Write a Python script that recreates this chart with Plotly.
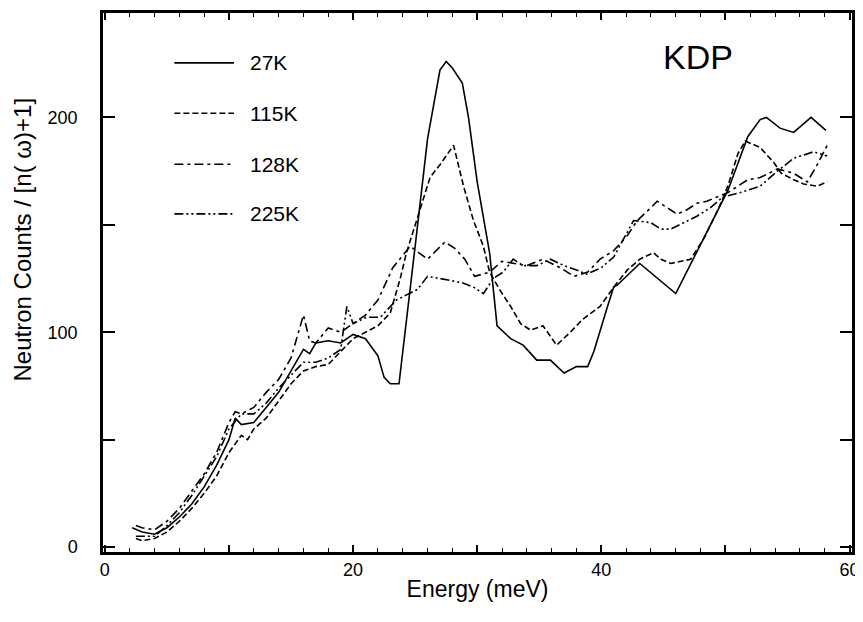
import plotly.graph_objects as go

# ---- data ----
x_27 = [2.2, 3, 4, 5, 6, 7, 8, 9, 10, 10.5, 11, 12, 13, 14, 15, 16, 16.5, 17, 18, 19, 20, 21, 22, 22.5, 23, 23.7,
        25, 26, 27, 27.5, 28, 28.8, 29.3, 30, 31, 31.6, 32.7, 33.7, 34.8, 35.9, 37, 38, 38.9, 39.4, 40.5, 41, 41.3,
        43.1, 46, 47.4, 50.2, 51.8, 52.8, 53.3, 54.4, 55.5, 56.9, 58.1]
y_27 = [9, 7, 6, 9, 14, 20, 28, 38, 50, 60, 57, 58, 65, 72, 82, 92, 90, 95, 96, 95, 99, 97, 89, 79, 76, 76,
        140, 190, 222, 226, 223, 216, 200, 170, 137, 103, 97, 94, 87, 87, 81, 84, 84, 91, 112, 121, 122,
        132, 118, 134, 166, 191, 199, 200, 195, 193, 200, 194]

x_115 = [2.5, 3, 4, 5, 6, 7, 8, 9, 10, 11, 11.5, 12, 13, 14, 15, 16, 17, 18, 19, 20, 21, 22, 23, 23.8, 24.3, 25.2,
         26.2, 27, 28.1, 28.9, 29.7, 30.5, 31, 31.9, 32.7, 33.5, 34.3, 35.3, 36.4, 37.5, 38.5, 39.9, 41, 42.1, 43.1,
         44.2, 44.8, 45.6, 46.4, 47.2, 48.3, 49.4, 50.2, 51, 51.6, 52.8, 53.9, 54.5, 55.5, 56.3, 57.4, 58.2]
y_115 = [4, 3, 4, 7, 12, 18, 25, 33, 44, 52, 50, 55, 60, 68, 76, 82, 84, 85, 91, 97, 100, 103, 109, 125, 137, 154,
         172, 178, 187, 168, 152, 140, 128, 119, 112, 104, 101, 103, 94, 100, 106, 112, 121, 129, 134,
         137, 134, 132, 133, 134, 144, 157, 168, 183, 189, 186, 179, 174, 171, 169, 168, 170]

x_128 = [2.5, 3, 4, 5, 6, 7, 8, 9, 10, 10.5, 11, 12, 13, 14, 15, 15.5, 16, 16.5, 17, 18, 19, 20, 21, 22, 23.2, 24.6,
         26, 27.4, 28.2, 29, 29.8, 31, 32, 33, 34, 35.3, 36.7, 37.8, 38.9, 39.9, 41, 42.1, 42.9, 44, 44.5, 45.3,
         46.1, 46.9, 47.7, 48.5, 49.3, 50.2, 51.8, 52.8, 54.2, 55.5, 56.6, 57.4, 58.2]
y_128 = [10, 9, 8, 12, 18, 26, 34, 44, 58, 63, 62, 65, 72, 78, 88, 98, 108, 96, 95, 102, 100, 104, 108, 115, 130, 140,
         134, 142, 139, 134, 126, 128, 133, 132, 131, 134, 130, 126, 128, 134, 138, 145, 152, 158, 161, 158,
         155, 157, 160, 161, 163, 165, 171, 172, 176, 174, 170, 178, 187]

x_225 = [2.5, 3, 4, 5, 6, 7, 8, 9, 10, 11, 12, 13, 14, 15, 16, 17, 18, 19, 19.5, 20, 21.1, 22.2, 23.5, 25.2, 26, 27,
         27.8, 28.8, 29.7, 30.5, 31.3, 32.1, 32.9, 33.7, 34.8, 35.9, 37, 38, 38.8, 40, 41, 42.6, 44, 44.8, 45.6,
         46.6, 47.7, 48.8, 49.8, 51.2, 52.8, 54.2, 55.5, 57.1, 58.2]
y_225 = [5, 5, 5, 10, 16, 24, 33, 42, 55, 62, 62, 67, 74, 80, 86, 86, 88, 92, 112, 104, 107, 107, 115, 120, 126, 125,
         124, 123, 121, 118, 125, 128, 134, 131, 131, 134, 131, 129, 127, 130, 135, 152, 151, 148, 148,
         151, 154, 158, 163, 165, 168, 175, 181, 184, 182]

series_names = ["27K", "115K", "128K", "225K"]
x_ticks = [0, 10, 20, 30, 40, 50, 60]
x_tick_text = ["0", "", "20", "", "40", "", "60"]
y_ticks = [0, 50, 100, 150, 200]
y_tick_text = ["0", "", "100", "", "200"]
x_title = "Energy (meV)"
y_title = "Neutron Counts / [n( ω)+1]"
panel_label = "KDP"

dashes = ["solid", "6px,3px", "9px,4px,3px,4px", "9px,3px,2px,3px,2px,3px"]
xs = [x_27, x_115, x_128, x_225]
ys = [y_27, y_115, y_128, y_225]

FONT = "Liberation Sans, Arial, sans-serif"

fig = go.Figure()
for name, xv, yv, d in zip(series_names, xs, ys, dashes):
    fig.add_trace(go.Scatter(x=xv, y=yv, mode="lines", name=name,
                             line=dict(color="black", width=1.6, dash=d),
                             showlegend=False))

# hand-drawn legend (long line samples as in the reference)
leg_y = [225.4, 201.9, 178.2, 155.1]
for name, d, ly in zip(series_names, dashes, leg_y):
    fig.add_shape(type="line", x0=5.6, x1=10.4, y0=ly, y1=ly, xref="x", yref="y",
                  line=dict(color="black", width=1.6, dash=d))
    fig.add_annotation(x=11.5, y=ly, text=name, showarrow=False, xanchor="left",
                       yanchor="middle", font=dict(family=FONT, size=21, color="black"))

fig.add_annotation(x=44.8, y=228.2, text=panel_label, showarrow=False, xanchor="left", yanchor="middle",
                   font=dict(family=FONT, size=34, color="black"))

# y-axis title (placed slightly above centre as in the reference)
fig.add_annotation(xref="paper", yref="paper", x=-0.108, y=0.58, text=y_title, textangle=-90,
                   showarrow=False, xanchor="center", yanchor="middle",
                   font=dict(family=FONT, size=24, color="black"))

axis_common = dict(showgrid=False, zeroline=False, showline=True, linecolor="black", linewidth=2.5,
                   mirror="ticks", ticks="inside", tickcolor="black",
                   tickfont=dict(family=FONT, size=18, color="black"))

fig.update_xaxes(range=[-0.15, 60.2], tickvals=x_ticks, ticktext=x_tick_text, ticklen=7, tickwidth=1.5,
                 minor=dict(dtick=2, ticks="inside", ticklen=4, tickcolor="black", tickwidth=1),
                 title=dict(text=x_title, font=dict(family=FONT, size=23, color="black"), standoff=2),
                 **axis_common)
fig.update_yaxes(range=[-2.3, 248.6], tickvals=y_ticks, ticktext=y_tick_text, ticklen=12, tickwidth=1.5,
                 ticklabelstandoff=19, **axis_common)

# the page adds an 8px body margin, so the figure is sized/offset to land on the reference pixels
fig.update_layout(width=855, height=614, plot_bgcolor="white", paper_bgcolor="white",
                  margin=dict(l=95, r=11, t=2, b=70), showlegend=False)

fig.write_html("out.html")
